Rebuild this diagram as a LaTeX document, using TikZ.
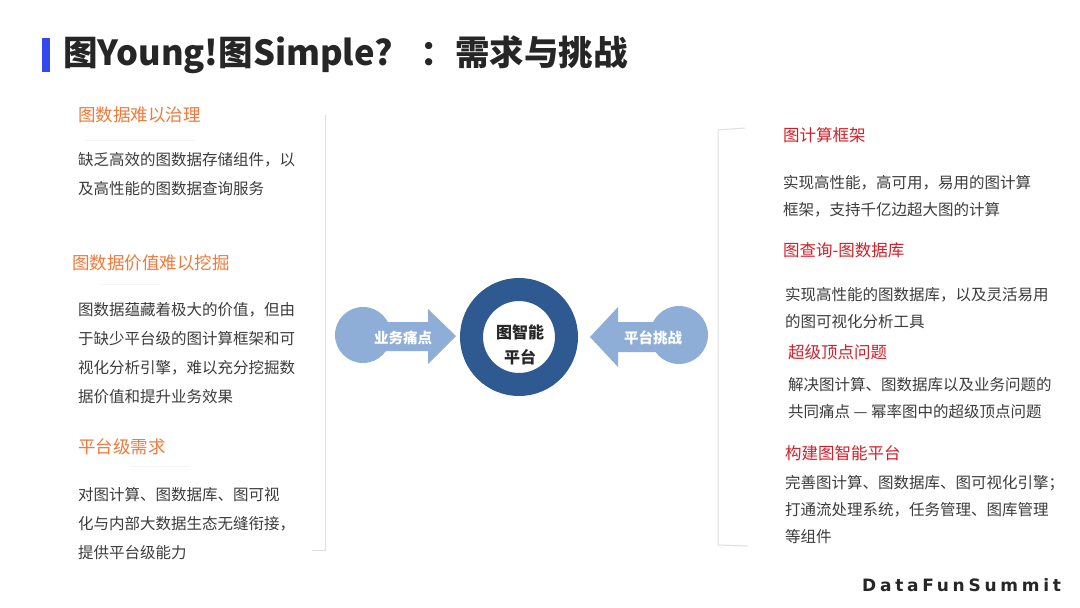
\documentclass[tikz,border=0pt]{standalone}
\usepackage{fontspec}
\setmainfont{Noto Sans CJK SC}
\newfontfamily\brandfont[LetterSpace=22]{DejaVu Sans}
\usepackage{tikz}
\definecolor{barblue}{RGB}{52,72,240}
\definecolor{ringblue}{RGB}{46,90,145}
\definecolor{arrowblue}{RGB}{143,174,215}
\definecolor{warm}{RGB}{240,122,60}
\definecolor{hot}{RGB}{214,30,40}
\definecolor{ink}{RGB}{60,60,60}
\definecolor{titleink}{RGB}{38,38,38}
\tikzset{
    lefthead/.style={anchor=west, inner sep=0, text=warm, font=\fontsize{17.5}{20}\selectfont},
    righthead/.style={anchor=west, inner sep=0, text=hot, font=\fontsize{16.5}{20}\selectfont},
    bodytext/.style={anchor=north west, inner sep=0, align=left, text=ink, font=\fontsize{15.5}{29}\selectfont},
    rbodytext/.style={bodytext, font=\fontsize{15.5}{27}\selectfont},
    tag/.style={text=white, inner sep=0, font=\bfseries\fontsize{14.5}{16}\selectfont},
}

\begin{document}
\begin{tikzpicture}[x=1pt, y=-1pt]

    \useasboundingbox[fill=white] (0, 0) rectangle (1080, 608);

    % title
    \fill[color=barblue] (42, 38) rectangle (50, 72);
    \node[anchor=west, inner sep=0, text=titleink, font=\bfseries\fontsize{34.5}{36}\selectfont]
        (title) at (63, 55) {图Young!图Simple?\hspace{28pt}：需求与挑战};

    % panel borders
    \draw[gray!25, line width=1] (325, 115) -- (325, 550) -- (312, 550);
    \draw[gray!25, line width=1] (745, 128) -- (718, 130) -- (718, 545) -- (748, 546);
    \draw[gray!8, line width=1] (85, 140) -- (195, 140);
    \draw[gray!8, line width=1] (100, 284) -- (160, 284);
    \draw[gray!8, line width=1] (130, 466) -- (190, 466);

    % left column
    \node[lefthead] (issue1) at (78, 115) {图数据难以治理};
    \node[bodytext] (text1) at (78, 152) {缺乏高效的图数据存储组件，以\\及高性能的图数据查询服务};
    \node[lefthead] (issue2) at (72, 263) {图数据价值难以挖掘};
    \node[bodytext] (text2) at (78, 302) {图数据蕴藏着极大的价值，但由\\于缺少平台级的图计算框架和可\\视化分析引擎，难以充分挖掘数\\据价值和提升业务效果};
    \node[lefthead] (issue3) at (78, 447) {平台级需求};
    \node[bodytext] (text3) at (78, 487) {对图计算、图数据库、图可视\\化与内部大数据生态无缝衔接，\\提供平台级能力};

    % centre
    \draw[line width=23, color=ringblue] (519, 337) circle (47.5);
    \node[align=center, inner sep=0, text=titleink, font=\bfseries\fontsize{16}{25}\selectfont]
        (core) at (520, 345) {图智能\\平台};

    \fill[color=arrowblue] (363, 335) circle (28);
    \fill[color=arrowblue] (363, 322) -- (428, 322) -- (428, 309) -- (456, 336)
        -- (428, 364) -- (428, 351) -- (363, 351) -- cycle;
    \node[tag] (pain) at (403, 338) {业务痛点};

    \fill[color=arrowblue] (679, 335) circle (29);
    \fill[color=arrowblue] (679, 322) -- (618, 322) -- (618, 307) -- (590, 337)
        -- (618, 367) -- (618, 352) -- (679, 352) -- cycle;
    \node[tag] (challenge) at (653, 338) {平台挑战};

    % right column
    \node[righthead] (goal1) at (783, 135) {图计算框架};
    \node[rbodytext] (rtext1) at (783, 175) {实现高性能，高可用，易用的图计算\\框架，支持千亿边超大图的计算};
    \node[righthead] (goal2) at (783, 250) {图查询-图数据库};
    \node[rbodytext] (rtext2) at (785, 287) {实现高性能的图数据库，以及灵活易用\\的图可视化分析工具};
    \node[righthead] (goal3) at (788, 352) {超级顶点问题};
    \node[rbodytext] (rtext3) at (788, 377) {解决图计算、图数据库以及业务问题的\\共同痛点 — 幂率图中的超级顶点问题};
    \node[righthead] (goal4) at (785, 453) {构建图智能平台};
    \node[rbodytext] (rtext4) at (785, 475) {完善图计算、图数据库、图可视化引擎；\\打通流处理系统，任务管理、图库管理\\等组件};

    \node[anchor=west, inner sep=0, text=titleink, font=\brandfont\bfseries\fontsize{17}{20}\selectfont]
        (brand) at (862, 585) {DataFunSummit};

\end{tikzpicture}
\end{document}
